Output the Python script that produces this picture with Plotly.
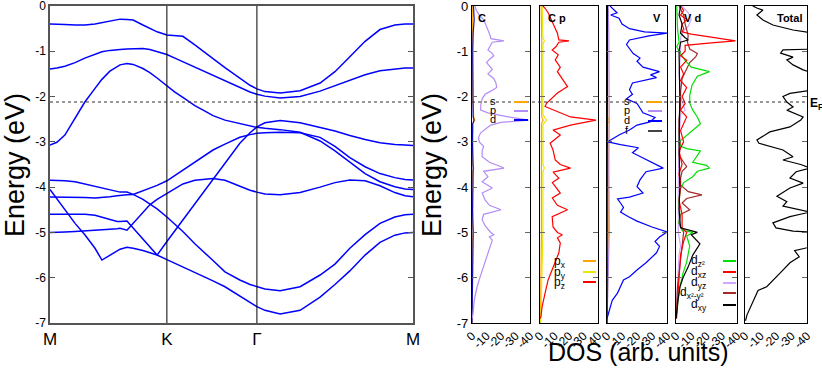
import plotly.graph_objects as go

W, H = 822, 368

# ---------------- band structure data ----------------
k_points = [0.000, 0.019, 0.041, 0.069, 0.096, 0.124, 0.143, 0.165, 0.185, 0.193,
            0.212, 0.229, 0.256, 0.275, 0.295, 0.322, 0.344, 0.366, 0.399, 0.427,
            0.449, 0.482, 0.523, 0.551, 0.570, 0.592, 0.634, 0.689, 0.744, 0.785,
            0.826, 0.868, 0.909, 0.950, 0.978, 1.000]
k_tick_vals = [0.0, 0.322, 0.570, 1.0]
k_tick_labels = ["M", "K", "Γ", "M"]
k_lines = [0.322, 0.570]

band_1 = [-0.40, -0.40, -0.41, -0.42, -0.42, -0.40, -0.37, -0.32, -0.29, -0.29,
          -0.30, -0.31, -0.42, -0.50, -0.57, -0.64, -0.66, -0.67, -0.86, -1.02,
          -1.16, -1.36, -1.60, -1.75, -1.83, -1.89, -1.92, -1.87, -1.70, -1.45,
          -1.12, -0.78, -0.52, -0.42, -0.40, -0.40]
band_2 = [-1.39, -1.37, -1.33, -1.25, -1.15, -1.06, -1.01, -0.98, -0.96, -0.96,
          -0.95, -0.94, -0.94, -0.96, -1.00, -1.07, -1.15, -1.23, -1.34, -1.44,
          -1.52, -1.64, -1.80, -1.90, -1.95, -1.99, -2.03, -2.00, -1.88, -1.76,
          -1.63, -1.52, -1.43, -1.39, -1.37, -1.37]
band_3 = [-3.07, -3.01, -2.85, -2.48, -2.12, -1.82, -1.62, -1.44, -1.33, -1.30,
          -1.27, -1.29, -1.38, -1.47, -1.59, -1.77, -1.90, -2.02, -2.20, -2.32,
          -2.42, -2.52, -2.60, -2.65, -2.68, -2.70, -2.73, -2.79, -2.98, -3.20,
          -3.45, -3.70, -3.88, -3.99, -4.04, -4.05]
band_4 = [-3.85, -3.85, -3.86, -3.88, -3.93, -3.99, -4.03, -4.07, -4.10, -4.11,
          -4.11, -4.16, -4.27, -4.37, -4.48, -4.66, -4.82, -4.98, -5.25, -5.47,
          -5.62, -5.87, -6.05, -6.15, -6.20, -6.25, -6.29, -6.20, -5.94, -5.70,
          -5.35, -5.05, -4.80, -4.66, -4.61, -4.60]
band_5 = [-4.05, -4.25, -4.50, -4.80, -5.05, -5.35, -5.61, -5.50, -5.40, -5.37,
          -5.33, -5.35, -5.40, -5.45, -5.50, -5.60, -5.68, -5.76, -5.88, -5.98,
          -6.07, -6.20, -6.40, -6.55, -6.64, -6.72, -6.80, -6.72, -6.43, -6.15,
          -5.85, -5.50, -5.22, -5.06, -5.01, -5.00]
band_6 = [-4.22, -4.22, -4.22, -4.22, -4.23, -4.24, -4.23, -4.21, -4.19, -4.18,
          -4.17, -4.16, -4.08, -4.02, -3.96, -3.86, -3.74, -3.62, -3.45, -3.30,
          -3.18, -3.05, -2.90, -2.84, -2.81, -2.80, -2.79, -2.80, -2.90, -3.10,
          -3.35, -3.55, -3.70, -3.79, -3.83, -3.84]
band_7 = [-4.60, -4.60, -4.60, -4.60, -4.60, -4.62, -4.66, -4.72, -4.76, -4.76,
          -4.75, -4.90, -5.15, -5.32, -5.50, -5.20, -4.96, -4.73, -4.37, -4.07,
          -3.83, -3.48, -3.03, -2.80, -2.67, -2.58, -2.53, -2.58, -2.68, -2.76,
          -2.86, -2.95, -3.02, -3.06, -3.07, -3.08]
band_8 = [-5.00, -5.00, -4.99, -4.98, -4.97, -4.95, -4.94, -4.93, -4.92, -4.91,
          -4.95, -4.80, -4.56, -4.39, -4.27, -4.14, -4.02, -3.93, -3.85, -3.82,
          -3.81, -3.85, -3.98, -4.07, -4.11, -4.15, -4.17, -4.12, -4.00, -3.90,
          -3.84, -3.86, -3.97, -4.12, -4.19, -4.21]

e_tick_vals = [0, -1, -2, -3, -4, -5, -6, -7]
e_tick_labels = ["0", "-1", "-2", "-3", "-4", "-5", "-6", "-7"]
dos_tick_vals = [0, -10, -20, -30, -40]
dos_tick_labels = ["0", "-10", "-20", "-30", "-40"]
fermi_level = -2.12

# ---------------- DOS data (magnitudes, plotted toward the negative axis) ----------------
# panel "C"
c_s_E = [0, -2.0, -2.45, -2.52, -2.6, -3.5, -3.58, -3.65, -4.9, -5.0, -5.1, -6.0, -7.0]
c_s = [0.2, 0.3, 1.2, 2, 0.5, 0.4, 1.2, 0.4, 0.3, 1, 0.3, 0.4, 0]
c_p_E = [0, -0.1, -0.2, -0.3, -0.45, -0.55, -0.65, -0.72, -0.77, -0.8,
         -0.9, -0.97, -1.05, -1.1, -1.18, -1.25, -1.32, -1.4, -1.5, -1.6,
         -1.7, -1.8, -1.88, -1.95, -2.05, -2.2, -2.3, -2.36, -2.45, -2.52,
         -2.57, -2.63, -2.7, -2.8, -2.9, -3.0, -3.1, -3.2, -3.33, -3.45,
         -3.55, -3.58, -3.65, -3.77, -3.88, -4.02, -4.13, -4.28, -4.4, -4.5,
         -4.6, -4.72, -4.85, -4.99, -5.05, -5.1, -5.17, -5.3, -5.54, -5.76,
         -5.98, -6.2, -6.5, -6.8, -6.9]
c_p = [2, 3, 5, 8, 10, 11.5, 12.5, 13, 22, 14,
       12, 11, 14, 15, 12, 10, 12, 14, 11, 15,
       16.5, 17, 13, 9, 7, 6, 6, 11, 25, 39,
       20, 13, 10, 6, 4.5, 5, 8, 7, 7, 12,
       20, 22, 8, 11, 7, 14, 7, 9, 12, 20,
       8, 7, 9, 12.6, 15, 12, 14, 12.6, 10.5, 8,
       5.6, 3.5, 1.5, 0.7, 0]
c_d_E = [0, -0.3, -0.6, -1.0, -2.45, -2.52, -2.6, -3.0, -3.58, -4.5, -5.0, -6.0, -7.0]
c_d = [1, 1.5, 0.8, 0.5, 0.8, 1.4, 0.5, 0.3, 0.8, 0.4, 0.8, 0.2, 0]

# panel "C p"
c_px_E = [0, -0.77, -2.45, -2.52, -2.6, -3.58, -5.0, -7.0]
c_px = [0.8, 1.2, 1.2, 2.2, 1.0, 1.2, 1.0, 0.3]
c_py_E = [0, -0.7, -0.77, -0.85, -2.4, -2.52, -2.62, -3.5, -3.58, -3.66, -5.0, -6.0, -6.8, -7.0]
c_py = [1.5, 2, 3, 2, 2, 4.5, 2, 2, 3, 2, 2, 1.5, 1, 0.5]
c_pz_E = [0, -0.05, -0.15, -0.4, -0.6, -0.75, -0.77, -0.8, -0.9, -0.97,
          -1.08, -1.19, -1.35, -1.45, -1.63, -1.78, -1.92, -2.07, -2.15, -2.22,
          -2.36, -2.45, -2.52, -2.63, -2.74, -2.85, -3.03, -3.18, -3.4, -3.5,
          -3.58, -3.67, -3.8, -3.9, -4.13, -4.24, -4.4, -4.5, -4.65, -4.88,
          -5.0, -5.05, -5.12, -5.23, -5.45, -5.76, -6.05, -6.34, -6.65, -6.85,
          -6.9]
c_pz = [2, 3.5, 5.6, 9, 12, 13, 20, 13, 11, 8.4,
        12.6, 10.5, 14, 12, 16, 19, 12, 7, 4.5, 3.5,
        14, 21, 38.6, 21, 9, 14, 7, 9, 10.5, 14,
        21, 9, 13, 8.5, 14, 8.5, 12, 19, 8.4, 9,
        12, 15.4, 12, 14, 13, 9, 5.6, 3.5, 1.4, 0.7,
        0]

# panel "V"
v_s_E = [0, -2.45, -2.52, -2.6, -3.58, -5.0, -7.0]
v_s = [0.3, 0.5, 1.5, 0.5, 1, 1, 0]
v_p_E = [0, -0.6, -2.5, -3.58, -5.0, -6.0, -7.0]
v_p = [0.8, 1.2, 1.5, 1.2, 1.5, 0.8, 0]
v_d_E = [0, -0.1, -0.15, -0.2, -0.27, -0.4, -0.5, -0.57, -0.6, -0.66,
         -0.75, -0.85, -0.95, -1.05, -1.15, -1.22, -1.35, -1.45, -1.52, -1.58,
         -1.7, -1.85, -1.95, -2.05, -2.15, -2.36, -2.46, -2.56, -2.63, -2.74,
         -2.85, -3.0, -3.06, -3.13, -3.24, -3.44, -3.58, -3.66, -3.84, -3.99,
         -4.13, -4.22, -4.26, -4.35, -4.45, -4.55, -4.65, -4.75, -4.88, -4.99,
         -5.1, -5.2, -5.31, -5.45, -5.67, -5.83, -5.98, -6.05, -6.34, -6.5,
         -6.78, -6.9]
v_d = [2, 5, 6.7, 2.5, 8, 10, 15, 25, 40, 28,
       15, 13, 15, 17.5, 22, 20, 24, 35, 29, 33,
       17, 15, 17, 13, 20, 24, 32, 28.7, 20, 15,
       8, 0.5, 9, 21, 17, 29, 37.5, 26, 22, 20,
       24, 15, 7, 9, 11, 9, 14, 20, 30, 40,
       35, 32, 35, 33, 26, 20, 15, 11, 7, 3.5,
       1, 0]
v_f_E = [0, -3.5, -7.0]
v_f = [0.3, 0.3, 0]

# panel "V d"
d_z2_E = [0, -0.5, -0.8, -0.9, -1.0, -1.2, -1.35, -1.45, -1.55, -1.75,
          -1.97, -2.14, -2.3, -2.45, -2.6, -2.75, -2.9, -3.0, -3.1, -3.15,
          -3.2, -3.3, -3.45, -3.52, -3.58, -3.65, -3.77, -3.9, -4.06, -4.3,
          -4.6, -4.8, -4.95, -5.0, -5.08, -5.3, -5.65, -5.9, -6.2, -6.5,
          -6.9]
d_z2 = [0.5, 1, 2, 0.5, 2, 6, 10, 22, 14, 10.5,
        9, 9, 11, 14, 16, 11, 6, 2, 3, 7,
        16, 14, 11, 20, 22, 14, 11, 5, 2.6, 2,
        2.5, 2, 4, 11, 7, 9, 7, 4.6, 2.6, 1.3,
        0.3]
d_xz_E = [0, -0.1, -0.2, -0.3, -0.4, -0.5, -0.57, -0.62, -0.68, -0.74,
          -0.77, -0.81, -0.87, -1.0, -1.1, -1.2, -1.35, -1.5, -1.65, -1.8,
          -2.0, -2.15, -2.3, -2.45, -2.6, -2.75, -3.0, -3.2, -3.5, -3.7,
          -4.0, -4.3, -4.6, -4.9, -5.0, -5.2, -5.5, -6.0, -6.5, -6.9]
d_xz = [3, 5, 3, 7, 4, 5, 4, 10, 22, 35,
        39, 25, 6, 6, 3, 7, 3, 5, 3, 7,
        4, 6, 3, 7, 5, 3, 5, 2, 4, 2,
        3, 2, 4, 4, 7, 5, 3, 2, 1, 0.3]
d_yz_E = [0, -0.15, -0.3, -0.45, -0.55, -0.7, -1.0, -1.5, -2.0, -2.3,
          -2.4, -3.0, -4.0, -5.0, -5.3, -5.5, -6.5, -6.9]
d_yz = [4, 8, 10, 8, 5, 3, 3, 2, 3, 6,
        3, 2, 1.5, 1.5, 3, 2, 0.5, 0]
d_x2y2_E = [0, -0.2, -0.4, -0.55, -0.65, -0.8, -0.95, -1.05, -1.12, -1.25,
            -1.4, -1.6, -1.9, -2.2, -2.5, -2.8, -3.1, -3.3, -3.45, -3.55,
            -3.65, -3.8, -3.95, -4.1, -4.17, -4.25, -4.35, -4.5, -4.6, -4.8,
            -5.0, -5.3, -5.6, -6.2, -6.8]
d_x2y2 = [2, 5, 6, 7, 8, 7.5, 9, 14, 13, 9,
          7, 4, 3, 3, 2, 2, 3, 2, 5, 7,
          4, 3, 3, 8, 17, 7, 4, 9, 3, 2,
          5, 4, 3, 1, 0.3]
d_xy_E = [0, -0.2, -0.4, -0.6, -0.7, -0.75, -0.8, -1.0, -2.0, -3.0,
          -4.0, -4.5, -4.9, -5.0, -5.05, -5.15, -5.25, -5.5, -5.76, -6.0,
          -6.2, -6.5, -6.8, -6.9]
d_xy = [3, 2, 4, 3, 6, 8, 3, 2, 2.5, 2,
        2.5, 2, 3, 14, 10, 13, 15.7, 11, 8, 4.6,
        2.6, 1.3, 0.6, 0]

# panel "Total"
total_E = [0, -0.05, -0.09, -0.2, -0.31, -0.42, -0.53, -0.6, -0.95, -0.97,
           -1.04, -1.13, -1.19, -1.3, -1.41, -1.5, -1.85, -1.93, -2.0, -2.12,
           -2.23, -2.3, -2.45, -2.52, -2.67, -2.78, -2.96, -3.03, -3.18, -3.33,
           -3.4, -3.5, -3.58, -3.66, -3.8, -3.91, -4.02, -4.2, -4.32, -4.42,
           -4.55, -4.65, -4.79, -4.9, -4.97, -5.0, -5.3, -5.4, -5.54, -5.67,
           -5.9, -6.05, -6.2, -6.28, -6.43, -6.65, -6.82, -6.95]
total = [5, 8, 11.6, 7.7, 11.6, 18, 31, 45, 45, 24.5,
         23, 31, 27, 31, 37.5, 45, 45, 29, 24.5, 27,
         31, 27, 37.5, 36, 29, 16, 7.7, 9, 24.5, 31,
         24.5, 36, 42, 33, 29, 37.5, 29, 20.6, 27, 24.5,
         42, 29, 18, 20, 31, 45, 45, 32, 35, 29,
         22.6, 18, 14, 8.4, 6.5, 3.2, 1.3, 0.3]

# ---------------- styling ----------------
FONT = "Liberation Sans, Arial, sans-serif"
BLUE = "#0000ff"
VIOLET = "#b38cf5"
ORANGE = "#ffa500"
YELLOW = "#e8e800"
RED = "#ff0000"
GREEN = "#00e000"
BROWN = "#a52a2a"
LVIOLET = "#cfa8ff"
BLACK = "#000000"


def px_x(p):
    return p / W


def px_y(p):
    return 1 - p / H


fig = go.Figure()

for band in [band_1, band_2, band_3, band_4, band_5, band_6, band_7, band_8]:
    fig.add_trace(go.Scatter(x=k_points, y=band, mode="lines",
                             line=dict(color=BLUE, width=1.5),
                             xaxis="x", yaxis="y", showlegend=False,
                             hoverinfo="skip"))

panels = [
    [(c_s_E, c_s, ORANGE), (c_d_E, c_d, "#1010c0"), (c_p_E, c_p, VIOLET)],
    [(c_px_E, c_px, ORANGE), (c_py_E, c_py, YELLOW), (c_pz_E, c_pz, RED)],
    [(v_s_E, v_s, ORANGE), (v_p_E, v_p, VIOLET), (v_f_E, v_f, BLACK), (v_d_E, v_d, BLUE)],
    [(d_yz_E, d_yz, LVIOLET), (d_x2y2_E, d_x2y2, BROWN), (d_z2_E, d_z2, GREEN),
     (d_xz_E, d_xz, RED), (d_xy_E, d_xy, BLACK)],
    [(total_E, total, BLACK)],
]
for i, series in enumerate(panels):
    ax = i + 2
    for E, dos, col in series:
        fig.add_trace(go.Scatter(x=[-v for v in dos], y=E, mode="lines",
                                 line=dict(color=col, width=1.2),
                                 xaxis=f"x{ax}", yaxis=f"y{ax}",
                                 showlegend=False, hoverinfo="skip"))

layout = dict(
    template="none",
    width=W, height=H,
    margin=dict(l=0, r=0, t=0, b=0, pad=0, autoexpand=False),
    paper_bgcolor="white", plot_bgcolor="white",
    font=dict(family=FONT, color="black"),
    showlegend=False,
)

band_dom_x = [px_x(50), px_x(413)]
dom_y = [px_y(323), px_y(6)]
layout["xaxis"] = dict(domain=band_dom_x, range=[0, 1], tickvals=k_tick_vals,
                       ticktext=k_tick_labels, ticks="", showline=True,
                       mirror=True, linecolor="#555", linewidth=1.5,
                       showgrid=False, zeroline=False, automargin=False,
                       ticklabeloverflow="allow",
                       tickfont=dict(size=17, family=FONT), anchor="y")
layout["yaxis"] = dict(domain=dom_y, range=[-7, 0], tickvals=e_tick_vals,
                       ticktext=e_tick_labels, ticks="inside", ticklen=5,
                       tickcolor="#555", showline=True, mirror="ticks",
                       linecolor="#555", linewidth=1.5, showgrid=False,
                       zeroline=False, automargin=False, ticklabeloverflow="allow",
                       tickfont=dict(size=12, family=FONT), anchor="x")

dos_px = [(472, 530), (540, 598), (607, 667), (676, 737), (745, 807)]
for i, (a, b) in enumerate(dos_px):
    ax = i + 2
    layout[f"xaxis{ax}"] = dict(domain=[px_x(a), px_x(b)], range=[0, -40],
                                tickvals=dos_tick_vals, ticktext=dos_tick_labels,
                                tickangle=-45, ticks="", showline=True,
                                mirror=True, linecolor="black", linewidth=1.2,
                                showgrid=False, zeroline=False, automargin=False,
                                ticklabeloverflow="allow",
                                tickfont=dict(size=12, family=FONT), anchor=f"y{ax}")
    layout[f"yaxis{ax}"] = dict(domain=dom_y, range=[-7, 0], tickvals=e_tick_vals,
                                ticktext=e_tick_labels, ticks="inside", ticklen=5,
                                tickcolor="#666", showline=True, mirror="ticks",
                                linecolor="black", linewidth=1.2, showgrid=False,
                                zeroline=False, showticklabels=(i == 0),
                                automargin=False, ticklabeloverflow="allow",
                                tickfont=dict(size=13, family=FONT), anchor=f"x{ax}")

shapes = []
for kl in k_lines:
    shapes.append(dict(type="line", xref="x", yref="y", x0=kl, x1=kl, y0=-7, y1=0,
                       line=dict(color="black", width=1)))
shapes.append(dict(type="line", xref="x", yref="y", x0=0, x1=1,
                   y0=fermi_level, y1=fermi_level,
                   line=dict(color="#333", width=1, dash="3px,3px")))
shapes.append(dict(type="line", xref="paper", yref="y2", x0=px_x(472), x1=px_x(807),
                   y0=fermi_level, y1=fermi_level,
                   line=dict(color="#333", width=1, dash="3px,3px")))

annotations = []


def ann(text, x, y, size, xanchor="center", yanchor="middle", angle=0, bold=False):
    t = f"<b>{text}</b>" if bold else text
    annotations.append(dict(text=t, x=px_x(x), y=px_y(y), xref="paper", yref="paper",
                            showarrow=False, xanchor=xanchor, yanchor=yanchor,
                            textangle=angle, font=dict(size=size, family=FONT)))


def key(x0, x1, y, color):
    shapes.append(dict(type="line", xref="paper", yref="paper", x0=px_x(x0), x1=px_x(x1),
                       y0=px_y(y), y1=px_y(y), line=dict(color=color, width=2)))


ann("Energy (eV)", 15, 165, 27, angle=-90)
ann("Energy (eV)", 432, 165, 27, angle=-90)
ann("DOS (arb. units)", 638, 352, 25)

ann("C", 476, 18, 11, xanchor="left", bold=True)
ann("C p", 546, 18, 11, xanchor="left", bold=True)
ann("V", 663, 18, 11, xanchor="right", bold=True)
ann("V d", 682, 18, 11, xanchor="left", bold=True)
ann("Total", 804, 18, 11, xanchor="right", bold=True)
ann("E<sub>F</sub>", 808, 104, 12, xanchor="left", bold=True)

for lab, y, col in [("s", 102, ORANGE), ("p", 111, VIOLET), ("d", 120, BLUE)]:
    ann(lab, 493, y - 1, 11)
    key(514, 528, y, col)
for lab, y, col in [("s", 102, ORANGE), ("p", 111, VIOLET), ("d", 121, BLUE), ("f", 131, "#444")]:
    ann(lab, 627, y - 1, 11)
    key(648, 662, y, col)
for lab, y, col in [("p<sub>x</sub>", 261, ORANGE), ("p<sub>y</sub>", 272, YELLOW),
                    ("p<sub>z</sub>", 282, RED)]:
    ann(lab, 552, y + 1, 12, xanchor="left")
    key(583, 596, y, col)
for lab, xl, y, col in [("d<sub>z²</sub>", 689, 261, GREEN), ("d<sub>xz</sub>", 689, 272, RED),
                        ("d<sub>yz</sub>", 689, 283, LVIOLET),
                        ("d<sub>x²-y²</sub>", 678, 293, BROWN), ("d<sub>xy</sub>", 689, 305, BLACK)]:
    ann(lab, xl, y, 12, xanchor="left")
    key(723, 736, y, col)

layout["shapes"] = shapes
layout["annotations"] = annotations
fig.update_layout(**layout)

fig.write_html("out.html", config={"displayModeBar": False},
               post_script="document.body.style.margin='0';"
                           "document.body.style.overflow='hidden';")
